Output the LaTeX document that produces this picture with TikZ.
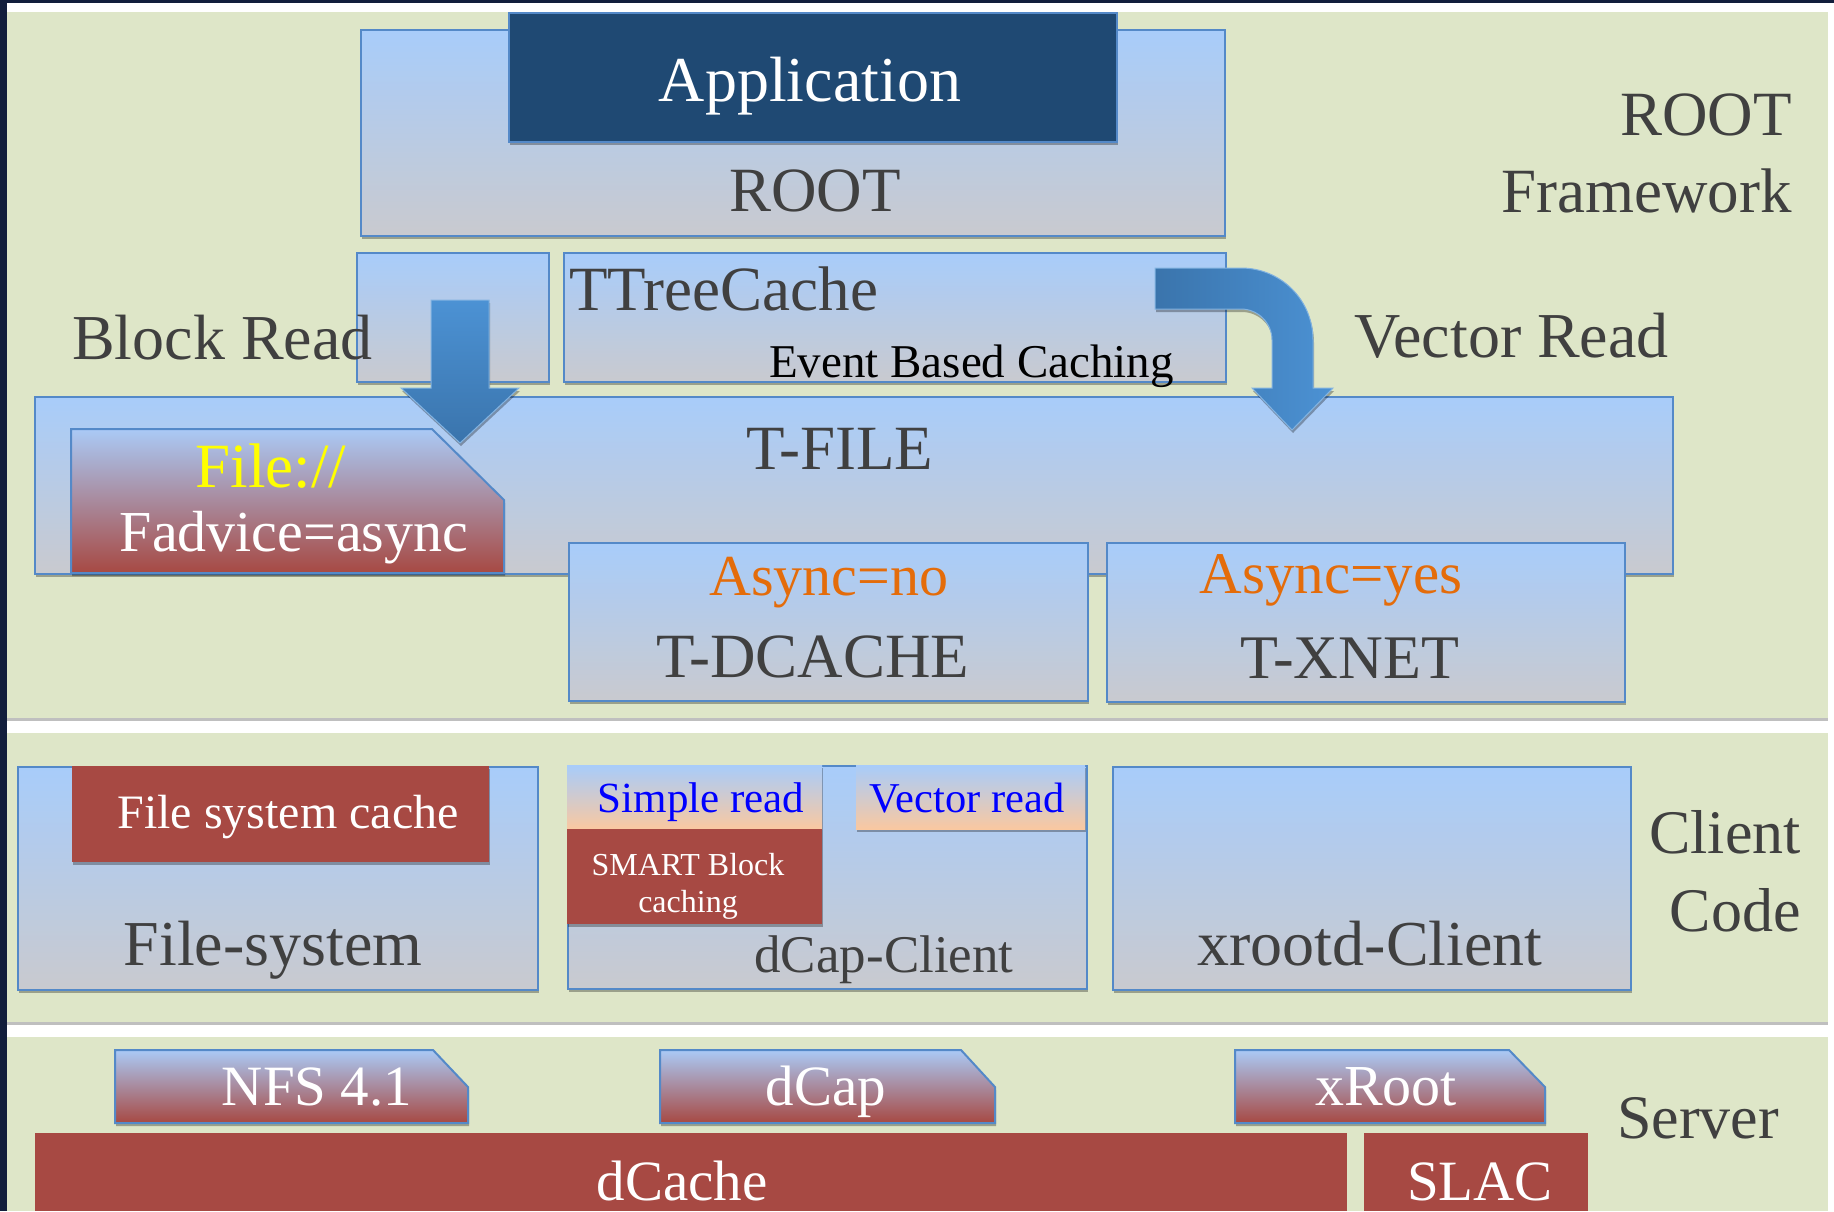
\documentclass[tikz,border=0pt]{standalone}
\usepackage{fontspec}
\setmainfont{Liberation Serif}
\usetikzlibrary{shadows}
\definecolor{navy}{RGB}{18,30,60}
\definecolor{panel}{RGB}{222,230,200}
\definecolor{boxtop}{RGB}{168,204,250}
\definecolor{boxbot}{RGB}{201,202,207}
\definecolor{edge}{RGB}{84,137,200}
\definecolor{appblue}{RGB}{31,73,115}
\definecolor{brick}{RGB}{167,73,67}
\definecolor{peach}{RGB}{250,200,160}
\definecolor{txt}{RGB}{64,64,64}
\definecolor{orng}{RGB}{228,108,10}
\definecolor{arrowlight}{RGB}{76,146,212}
\definecolor{arrowdark}{RGB}{58,116,172}
\definecolor{tabtop}{RGB}{170,202,246}
\definecolor{pureblue}{RGB}{0,0,255}
\definecolor{pureyellow}{RGB}{255,255,0}
\newcommand\fsz[1]{\fontsize{#1}{#1}\selectfont}
\tikzset{
  shd/.style={drop shadow={shadow xshift=1pt,shadow yshift=-3pt,opacity=0.3,fill=black}},
  panelbox/.style={fill=panel, drop shadow={shadow xshift=0pt,shadow yshift=-3pt,opacity=0.25,fill=black}},
  bluebox/.style={rectangle, inner sep=0pt, draw=edge, line width=2pt, top color=boxtop, bottom color=boxbot, shd},
  appstyle/.style={rectangle, inner sep=0pt, draw=edge, line width=2pt, fill=appblue, shd},
  redbox/.style={rectangle, inner sep=0pt, fill=brick, shd},
  peachbox/.style={rectangle, inner sep=0pt, top color=boxtop, bottom color=peach, shd},
  tabbox/.style={draw=edge, line width=2pt, top color=tabtop, bottom color=brick, shd},
  blockarrow/.style={draw=arrowlight!70!white, line width=1pt, shd},
  lbl/.style={inner sep=0pt, anchor=base, text=txt, font=\fsz{63}},
}
\begin{document}
\begin{tikzpicture}[x=1pt,y=-1pt]
\useasboundingbox (0,0) rectangle (1834,1211);
% background
\fill[white] (0,0) rectangle (1834,1211);
\fill[navy] (0,0) rectangle (7,1211);
\fill[navy] (0,0) rectangle (1834,3);
% panels
\path[panelbox] (7,12) rectangle (1828,718);
\path[panelbox] (7,733) rectangle (1828,1022);
\fill[panel] (7,1037) rectangle (1828,1211);

% ROOT framework layer
\node[bluebox, anchor=north west, minimum width=864pt, minimum height=206pt] (rootbox) at (360,29) {};
\node[appstyle, anchor=north west, minimum width=608pt, minimum height=129pt] (appbox) at (508,12) {};
\node[bluebox, anchor=north west, minimum width=192pt, minimum height=129pt] (smallbox) at (356,252) {};
\node[bluebox, anchor=north west, minimum width=662pt, minimum height=129pt] (ttcbox) at (563,252) {};
\node[bluebox, anchor=north west, minimum width=1638pt, minimum height=177pt] (tfilebox) at (34,396) {};
\path[tabbox] (71,429) -- (432,429) -- (504,500) -- (504,573) -- (71,573) -- cycle;
\node[bluebox, anchor=north west, minimum width=519pt, minimum height=158pt] (tdcachebox) at (568,542) {};
\node[bluebox, anchor=north west, minimum width=518pt, minimum height=159pt] (txnetbox) at (1106,542) {};

% arrows
\path[blockarrow, top color=arrowlight, bottom color=arrowdark]
  (431,300) -- (489,300) -- (489,388) -- (519,388) -- (460,443) -- (401,388) -- (431,388) -- cycle;
\path[blockarrow, left color=arrowdark, right color=arrowlight]
  (1155,268) -- (1241,268) .. controls (1281,268) and (1313,300) .. (1313,340)
  -- (1313,388) -- (1333,388) -- (1292,430) -- (1252,388) -- (1272,388) -- (1272,340)
  .. controls (1272,323) and (1258,309) .. (1241,309) -- (1155,309) -- cycle;

% client layer
\node[bluebox, anchor=north west, minimum width=520pt, minimum height=223pt] (fsbox) at (17,766) {};
\node[redbox, anchor=north west, minimum width=417pt, minimum height=96pt] (fscache) at (72,766) {};
\node[bluebox, anchor=north west, minimum width=519pt, minimum height=223pt] (dcapbox) at (567,765) {};
\node[peachbox, anchor=north west, minimum width=255pt, minimum height=64pt] (simplebox) at (567,765) {};
\node[redbox, anchor=north west, minimum width=255pt, minimum height=95pt] (smartbox) at (567,829) {};
\node[peachbox, anchor=north west, minimum width=229pt, minimum height=64pt] (vecbox) at (856,765) {};
\node[bluebox, anchor=north west, minimum width=518pt, minimum height=223pt] (xrdbox) at (1112,766) {};

% server layer
\path[tabbox] (115,1050) -- (433,1050) -- (468,1087) -- (468,1123) -- (115,1123) -- cycle;
\path[tabbox] (660,1050) -- (961,1050) -- (995,1087) -- (995,1123) -- (660,1123) -- cycle;
\path[tabbox] (1235,1050) -- (1509,1050) -- (1545,1087) -- (1545,1123) -- (1235,1123) -- cycle;
\fill[brick] (35,1133) rectangle (1347,1211);
\fill[brick] (1364,1133) rectangle (1588,1211);

% texts
\node[lbl, font=\fsz{64}, text=white] (apptxt) at (810,101) {Application};
\node[lbl] (roottxt) at (815,211) {ROOT};
\node[lbl, anchor=base east] (fw1) at (1792,135) {ROOT};
\node[lbl, anchor=base east] (fw2) at (1792,212) {Framework};
\node[lbl, font=\fsz{64}, anchor=base west] (blockread) at (72,359) {Block Read};
\node[lbl, font=\fsz{64}, anchor=base west] (vectorread) at (1354,357) {Vector Read};
\node[lbl, anchor=base west] (ttctxt) at (569,310) {TTreeCache};
\node[lbl, font=\fsz{47}, text=black, anchor=base west] (ebc) at (769,377) {Event Based Caching};
\node[lbl, font=\fsz{63}] (tfiletxt) at (840,469) {T-FILE};
\node[lbl, text=pureyellow] (filetxt) at (271,487) {File://};
\node[lbl, font=\fsz{58}, text=white] (fadvtxt) at (294,551) {Fadvice=async};
\node[lbl, font=\fsz{58}, text=orng] (asyncno) at (829,595) {Async=no};
\node[lbl, font=\fsz{63}] (tdcachetxt) at (813,677) {T-DCACHE};
\node[lbl, font=\fsz{59}, text=orng] (asyncyes) at (1331,593) {Async=yes};
\node[lbl, font=\fsz{62}] (txnettxt) at (1350,678) {T-XNET};

\node[lbl, font=\fsz{48}, text=white] (fscachetxt) at (288,828) {File system cache};
\node[lbl, font=\fsz{64}] (fstxt) at (273,965) {File-system};
\node[lbl, font=\fsz{43}, text=pureblue] (simpletxt) at (701,812) {Simple read};
\node[lbl, font=\fsz{42.5}, text=pureblue] (vectxt) at (967,812) {Vector read};
\node[lbl, font=\fsz{32}, text=white] (smart1) at (688,875) {SMART Block};
\node[lbl, font=\fsz{32}, text=white] (smart2) at (688,912) {caching};
\node[lbl, font=\fsz{53}] (dcapclient) at (884,972) {dCap-Client};
\node[lbl, font=\fsz{64}] (xrdtxt) at (1370,965) {xrootd-Client};
\node[lbl, font=\fsz{62}, anchor=base east] (client1) at (1801,853) {Client};
\node[lbl, font=\fsz{62}, anchor=base east] (client2) at (1801,931) {Code};

\node[lbl, font=\fsz{57}, text=white] (nfstxt) at (317,1105) {NFS 4.1};
\node[lbl, font=\fsz{57}, text=white] (dcaptxt) at (826,1105) {dCap};
\node[lbl, font=\fsz{58}, text=white] (xroottxt) at (1386,1105) {xRoot};
\node[lbl, font=\fsz{57}, text=white] (dcachetxt) at (682,1200) {dCache};
\node[lbl, font=\fsz{57}, text=white] (slactxt) at (1480,1200) {SLAC};
\node[lbl, font=\fsz{62}] (servertxt) at (1698,1138) {Server};
\end{tikzpicture}
\end{document}
